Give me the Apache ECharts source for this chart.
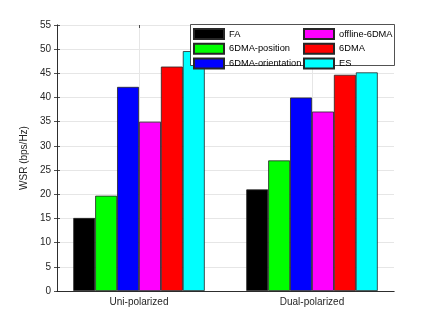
<!DOCTYPE html>
<html>
<head>
<meta charset="utf-8">
<script src="https://cdn.jsdelivr.net/npm/echarts@6/dist/echarts.min.js"></script>
<style>
  html, body { margin: 0; padding: 0; background: #fff; }
  #main { width: 436px; height: 327px; }
</style>
</head>
<body>
<div id="main"></div>
<script>
// values
var categories = ['Uni-polarized', 'Dual-polarized'];
var seriesNames = ['FA', '6DMA-position', '6DMA-orientation', 'offline-6DMA', '6DMA', 'ES'];
var faVals = [15.1, 21.0];
var positionVals = [19.7, 27.0];
var orientationVals = [42.2, 40.0];
var offlineVals = [35.0, 37.1];
var sixdmaVals = [46.4, 44.7];
var esVals = [49.6, 45.2];
var yTicks = { min: 0, max: 55, step: 5 };

var allVals = [faVals, positionVals, orientationVals, offlineVals, sixdmaVals, esVals];
var colors = ['#000000', '#00ff00', '#0000ff', '#ff00ff', '#ff0000', '#00ffff'];
var axisColor = '#262626';
var gridColor = '#e6e6e6';
var font = 'Liberation Sans, Arial, sans-serif';

var chart = echarts.init(document.getElementById('main'));

var series = seriesNames.map(function (name, i) {
  return {
    name: name,
    type: 'bar',
    xAxisIndex: 2,
    yAxisIndex: 2,
    data: allVals[i],
    barGap: '0%',
    barCategoryGap: '24%',
    itemStyle: { color: colors[i], borderColor: axisColor, borderWidth: 0.8 },
    emphasis: { disabled: true },
    silent: true
  };
});

var legendBase = {
  orient: 'vertical',
  top: 28,
  padding: 0,
  itemWidth: 30,
  itemHeight: 10,
  itemGap: 2.7,
  icon: 'rect',
  selectedMode: false,
  textStyle: { fontSize: 9.3, color: '#000', fontFamily: font }
};

var option = {
  animation: false,
  backgroundColor: '#fff',
  textStyle: { fontFamily: font },
  grid: [
    { left: 57, right: 42, top: 25, bottom: 36 },    // frame
    { left: 52.5, right: 37.5, top: 25, bottom: 36 } // bars
  ],
  graphic: {
    z: 3,
    elements: [{
      type: 'rect',
      z: 3,
      shape: { x: 190.5, y: 24.5, width: 204, height: 41 },
      style: { fill: '#fff', stroke: axisColor, lineWidth: 0.8 }
    }]
  },
  legend: [
    Object.assign({}, legendBase, { left: 193, data: seriesNames.slice(0, 3) }),
    Object.assign({}, legendBase, { left: 303, data: seriesNames.slice(3) })
  ],
  xAxis: [
    {
      gridIndex: 0, type: 'value', position: 'bottom', min: 0, max: 1,
      axisLine: { show: true, lineStyle: { color: axisColor, width: 0.8 } },
      axisTick: { show: false }, axisLabel: { show: false }, splitLine: { show: false }
    },
    {
      gridIndex: 0, type: 'value', position: 'top', min: 0, max: 1,
      axisLine: { show: true, lineStyle: { color: axisColor, width: 0.8 } },
      axisTick: { show: false }, axisLabel: { show: false }, splitLine: { show: false }
    },
    {
      gridIndex: 1, type: 'category', position: 'bottom', data: categories,
      axisLine: { show: false },
      axisTick: { show: true, alignWithLabel: true, inside: true, length: 266,
                  lineStyle: { color: gridColor, width: 1 } },
      axisLabel: { fontSize: 10, color: axisColor, margin: 6, fontFamily: font },
      splitLine: { show: false }
    },
    {
      gridIndex: 1, type: 'category', position: 'top', data: categories,
      axisLine: { show: false },
      axisTick: { show: true, alignWithLabel: true, inside: true, length: 3,
                  lineStyle: { color: axisColor, width: 0.8 } },
      axisLabel: { show: false },
      splitLine: { show: false }
    }
  ],
  yAxis: [
    {
      gridIndex: 0, type: 'value', position: 'left',
      min: yTicks.min, max: yTicks.max, interval: yTicks.step,
      name: 'WSR (bps/Hz)', nameLocation: 'middle', nameGap: 20,
      nameTextStyle: { fontSize: 10, color: axisColor, fontFamily: font },
      axisLine: { show: true, lineStyle: { color: axisColor, width: 0.8 } },
      axisTick: { show: true, inside: true, length: 3, lineStyle: { color: axisColor, width: 0.8 } },
      axisLabel: { fontSize: 10, color: axisColor, margin: 6, fontFamily: font },
      splitLine: { show: true, lineStyle: { color: gridColor, width: 1 } }
    },
    {
      gridIndex: 0, type: 'value', position: 'right',
      min: yTicks.min, max: yTicks.max, interval: yTicks.step,
      axisLine: { show: true, lineStyle: { color: axisColor, width: 0.8 } },
      axisTick: { show: true, inside: true, length: 3, lineStyle: { color: axisColor, width: 0.8 } },
      axisLabel: { show: false },
      splitLine: { show: false }
    },
    {
      gridIndex: 1, type: 'value', min: yTicks.min, max: yTicks.max, show: false
    }
  ],
  series: series
};

chart.setOption(option);
</script>
</body>
</html>
